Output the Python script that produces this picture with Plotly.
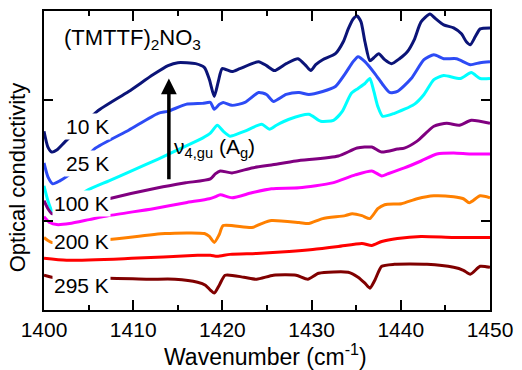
import plotly.graph_objects as go

# Wavenumber (cm^-1) and optical conductivity (arb. units, offset curves)
x_10K = [1400.0, 1400.44, 1400.88, 1401.43, 1402.32, 1403.97, 1405.96, 1409.49, 1412.25, 1413.91, 1415.01, 1417.0, 1417.99, 1418.54, 1419.09, 1419.54, 1419.98, 1421.08, 1421.96, 1424.06, 1424.94, 1425.83, 1427.15, 1428.48, 1429.36, 1429.91, 1430.46, 1431.24, 1432.67, 1433.55, 1434.11, 1434.66, 1435.1, 1435.54, 1435.98, 1436.53, 1436.98, 1437.53, 1438.19, 1438.96, 1439.85, 1440.73, 1441.5, 1442.27, 1443.27, 1443.93, 1444.81, 1445.92, 1446.8, 1447.35, 1447.79, 1448.34, 1448.9, 1450.0]
y_10K = [180, 164, 159, 161, 169, 183, 200, 220, 237, 246, 249, 248, 244, 232, 215, 230, 243, 240, 243, 250, 246, 241, 248, 253, 246, 241, 247, 252, 258, 270, 283, 293, 296, 290, 270, 251, 254, 258, 252, 248, 253, 260, 272, 290, 298, 293, 287, 284, 278, 270, 267, 275, 283, 284]

x_25K = [1400.0, 1400.44, 1400.99, 1401.77, 1402.65, 1403.97, 1405.63, 1409.49, 1412.8, 1413.9, 1415.9, 1417.77, 1418.65, 1419.09, 1419.65, 1420.09, 1421.08, 1422.52, 1424.06, 1424.94, 1425.72, 1427.15, 1428.59, 1429.69, 1431.24, 1432.67, 1433.77, 1434.66, 1435.21, 1435.98, 1437.09, 1437.97, 1438.74, 1439.62, 1441.17, 1442.6, 1443.71, 1444.81, 1446.25, 1447.79, 1448.9, 1450.0]
y_25K = [148, 134, 127, 130, 135, 145, 162, 181, 198, 200, 207, 208, 209, 202, 207, 209, 206, 209, 219, 217, 210, 217, 219, 217, 220, 225, 238, 250, 255, 250, 238, 227, 219, 220, 233, 252, 257, 253, 253, 247, 249, 250]

x_50K = [1400.0, 1400.44, 1400.88, 1401.43, 1402.87, 1404.75, 1407.28, 1409.82, 1412.8, 1415.89, 1417.77, 1418.65, 1419.43, 1420.09, 1420.86, 1421.63, 1422.52, 1424.39, 1425.28, 1426.05, 1427.48, 1429.69, 1431.02, 1432.45, 1433.44, 1434.44, 1435.21, 1435.98, 1436.53, 1436.98, 1437.42, 1437.97, 1439.29, 1441.5, 1442.6, 1443.71, 1444.81, 1446.69, 1447.9, 1448.9, 1450.0]
y_50K = [125, 110, 100, 97, 107, 120, 130, 140, 152, 165, 173, 178, 186, 180, 175, 177, 180, 187, 182, 186, 192, 197, 190, 191, 200, 218, 223, 228, 233, 220, 205, 195, 198, 207, 217, 232, 236, 233, 239, 233, 233]

x_100K = [1400.0, 1400.44, 1400.88, 1401.77, 1403.97, 1407.28, 1412.8, 1415.89, 1418.65, 1419.2, 1419.76, 1421.08, 1423.29, 1425.5, 1428.26, 1433.0, 1435.1, 1436.75, 1437.86, 1439.62, 1440.4, 1441.83, 1443.71, 1445.15, 1446.58, 1447.9, 1450.0]
y_100K = [110, 102, 97, 98, 104, 112, 123, 128, 132, 137, 140, 138, 143, 146, 150, 155, 163, 164, 159, 162, 163, 170, 185, 188, 186, 191, 188]

x_150K = [1400.0, 1400.66, 1401.43, 1402.87, 1405.08, 1407.28, 1412.25, 1415.89, 1418.54, 1419.2, 1419.76, 1421.08, 1423.29, 1425.5, 1428.59, 1432.34, 1434.88, 1436.75, 1437.86, 1438.52, 1440.4, 1442.27, 1444.04, 1445.92, 1447.79, 1450.0]
y_150K = [94, 88, 86, 87, 91, 95, 102, 108, 112, 114, 116, 113, 118, 122, 123, 128, 136, 140, 135, 137, 143, 150, 157, 158, 157, 157]

x_200K = [1400.0, 1400.44, 1400.88, 1402.87, 1407.28, 1413.58, 1417.99, 1418.54, 1419.09, 1419.65, 1420.09, 1423.29, 1424.39, 1425.5, 1428.59, 1429.69, 1431.24, 1433.77, 1434.55, 1435.65, 1436.53, 1437.42, 1438.19, 1440.07, 1441.83, 1443.71, 1445.92, 1447.02, 1447.68, 1448.9, 1450.0]
y_200K = [73, 70, 68, 69, 71, 77, 77, 74, 68, 76, 85, 83, 87, 90, 88, 87, 92, 95, 97, 95, 92, 102, 106, 107, 112, 115, 114, 112, 108, 115, 113]

x_250K = [1400.0, 1402.54, 1409.82, 1417.22, 1418.65, 1419.43, 1420.86, 1423.84, 1427.48, 1430.13, 1433.0, 1435.65, 1436.75, 1437.86, 1439.62, 1442.27, 1445.92, 1450.0]
y_250K = [52, 50, 52, 55, 55, 54, 56, 57, 59, 61, 64, 67, 65, 69, 72, 74, 73, 73]

x_295K = [1400.0, 1400.44, 1400.88, 1402.87, 1407.28, 1411.7, 1414.68, 1417.22, 1418.1, 1418.65, 1419.09, 1419.65, 1420.31, 1422.41, 1423.84, 1425.72, 1428.26, 1429.58, 1430.8, 1434.11, 1435.21, 1435.98, 1436.53, 1437.09, 1437.86, 1439.29, 1442.94, 1445.92, 1447.02, 1447.79, 1448.9, 1450.0]
y_295K = [35, 34, 33, 31, 32, 31, 31, 28, 25, 20, 17, 25, 35, 33, 31, 35, 35, 31, 37, 38, 33, 27, 22, 30, 44, 46, 46, 43, 40, 36, 44, 43]

series = [
    (x_10K, y_10K, "#0b1478"),
    (x_25K, y_25K, "#2d4bf5"),
    (x_50K, y_50K, "#00ffff"),
    (x_100K, y_100K, "#800080"),
    (x_150K, y_150K, "#ff00ff"),
    (x_200K, y_200K, "#ff8000"),
    (x_250K, y_250K, "#ff0000"),
    (x_295K, y_295K, "#800000"),
]

temp_labels = ["10 K", "25 K", "100 K", "200 K", "295 K"]
temp_label_x = [1404.86, 1404.86, 1404.19, 1404.19, 1404.19]
temp_label_y = [185, 147, 107, 69, 25]

FONT = "Liberation Sans, Arial, sans-serif"

fig = go.Figure()
for xs, ys, c in series:
    fig.add_trace(go.Scatter(x=xs, y=ys, mode="lines",
                             line=dict(color=c, width=3, shape="spline", smoothing=0.6),
                             showlegend=False, hoverinfo="skip"))

annotations = []
for t, tx, ty in zip(temp_labels, temp_label_x, temp_label_y):
    annotations.append(dict(x=tx, y=ty, xref="x", yref="y", text=t, showarrow=False,
                            font=dict(family=FONT, size=21, color="black"),
                            bgcolor="white", borderpad=1, xanchor="center", yanchor="middle"))

annotations.append(dict(x=1402.0, y=273, xref="x", yref="y",
                        text="(TMTTF)<sub>2</sub>NO<sub>3</sub>", showarrow=False,
                        font=dict(family=FONT, size=22, color="black"),
                        xanchor="left", yanchor="middle"))
annotations.append(dict(x=1414.3, y=163, xref="x", yref="y",
                        text="ν<sub>4,gu</sub> (A<sub>g</sub>)", showarrow=False,
                        font=dict(family=FONT, size=21, color="black"),
                        xanchor="left", yanchor="middle"))
# arrow
annotations.append(dict(x=1414.0, y=233, ax=1414.0, ay=130, xref="x", yref="y",
                        axref="x", ayref="y", text="", showarrow=True,
                        arrowhead=2, arrowsize=0.9, arrowwidth=3.5, arrowcolor="black"))
# axis titles
annotations.append(dict(x=(17 - 44) / 453, y=(310 - 176) / 301, xref="paper", yref="paper",
                        text="Optical conductivity", textangle=-90, showarrow=False,
                        font=dict(family=FONT, size=22, color="black"),
                        xanchor="center", yanchor="middle"))
annotations.append(dict(x=(269 - 44) / 453, y=(310 - 355) / 301, xref="paper", yref="paper",
                        text="Wavenumber (cm<sup>-1</sup>)", showarrow=False,
                        font=dict(family=FONT, size=23, color="black"),
                        xanchor="center", yanchor="middle"))

fig.update_layout(
    width=522, height=370,
    margin=dict(l=44, r=25, t=9, b=60),
    paper_bgcolor="white", plot_bgcolor="white",
    annotations=annotations,
    font=dict(family=FONT, color="black"),
)
fig.update_xaxes(range=[1400, 1450], tickvals=[1400, 1410, 1420, 1430, 1440, 1450],
                 ticks="inside", ticklen=10, tickwidth=2, tickcolor="black",
                 minor=dict(tickvals=[1405, 1415, 1425, 1435, 1445], ticks="inside",
                            ticklen=5, tickwidth=2, tickcolor="black"),
                 showline=True, linewidth=2, linecolor="black", mirror="ticks",
                 showgrid=False, zeroline=False,
                 tickfont=dict(family=FONT, size=21, color="black"))
fig.update_yaxes(range=[0, 301], tickvals=[90, 211], showticklabels=False,
                 ticks="inside", ticklen=9, tickwidth=2, tickcolor="black",
                 showline=True, linewidth=2, linecolor="black", mirror="ticks",
                 showgrid=False, zeroline=False)

fig.write_html("out.html")
